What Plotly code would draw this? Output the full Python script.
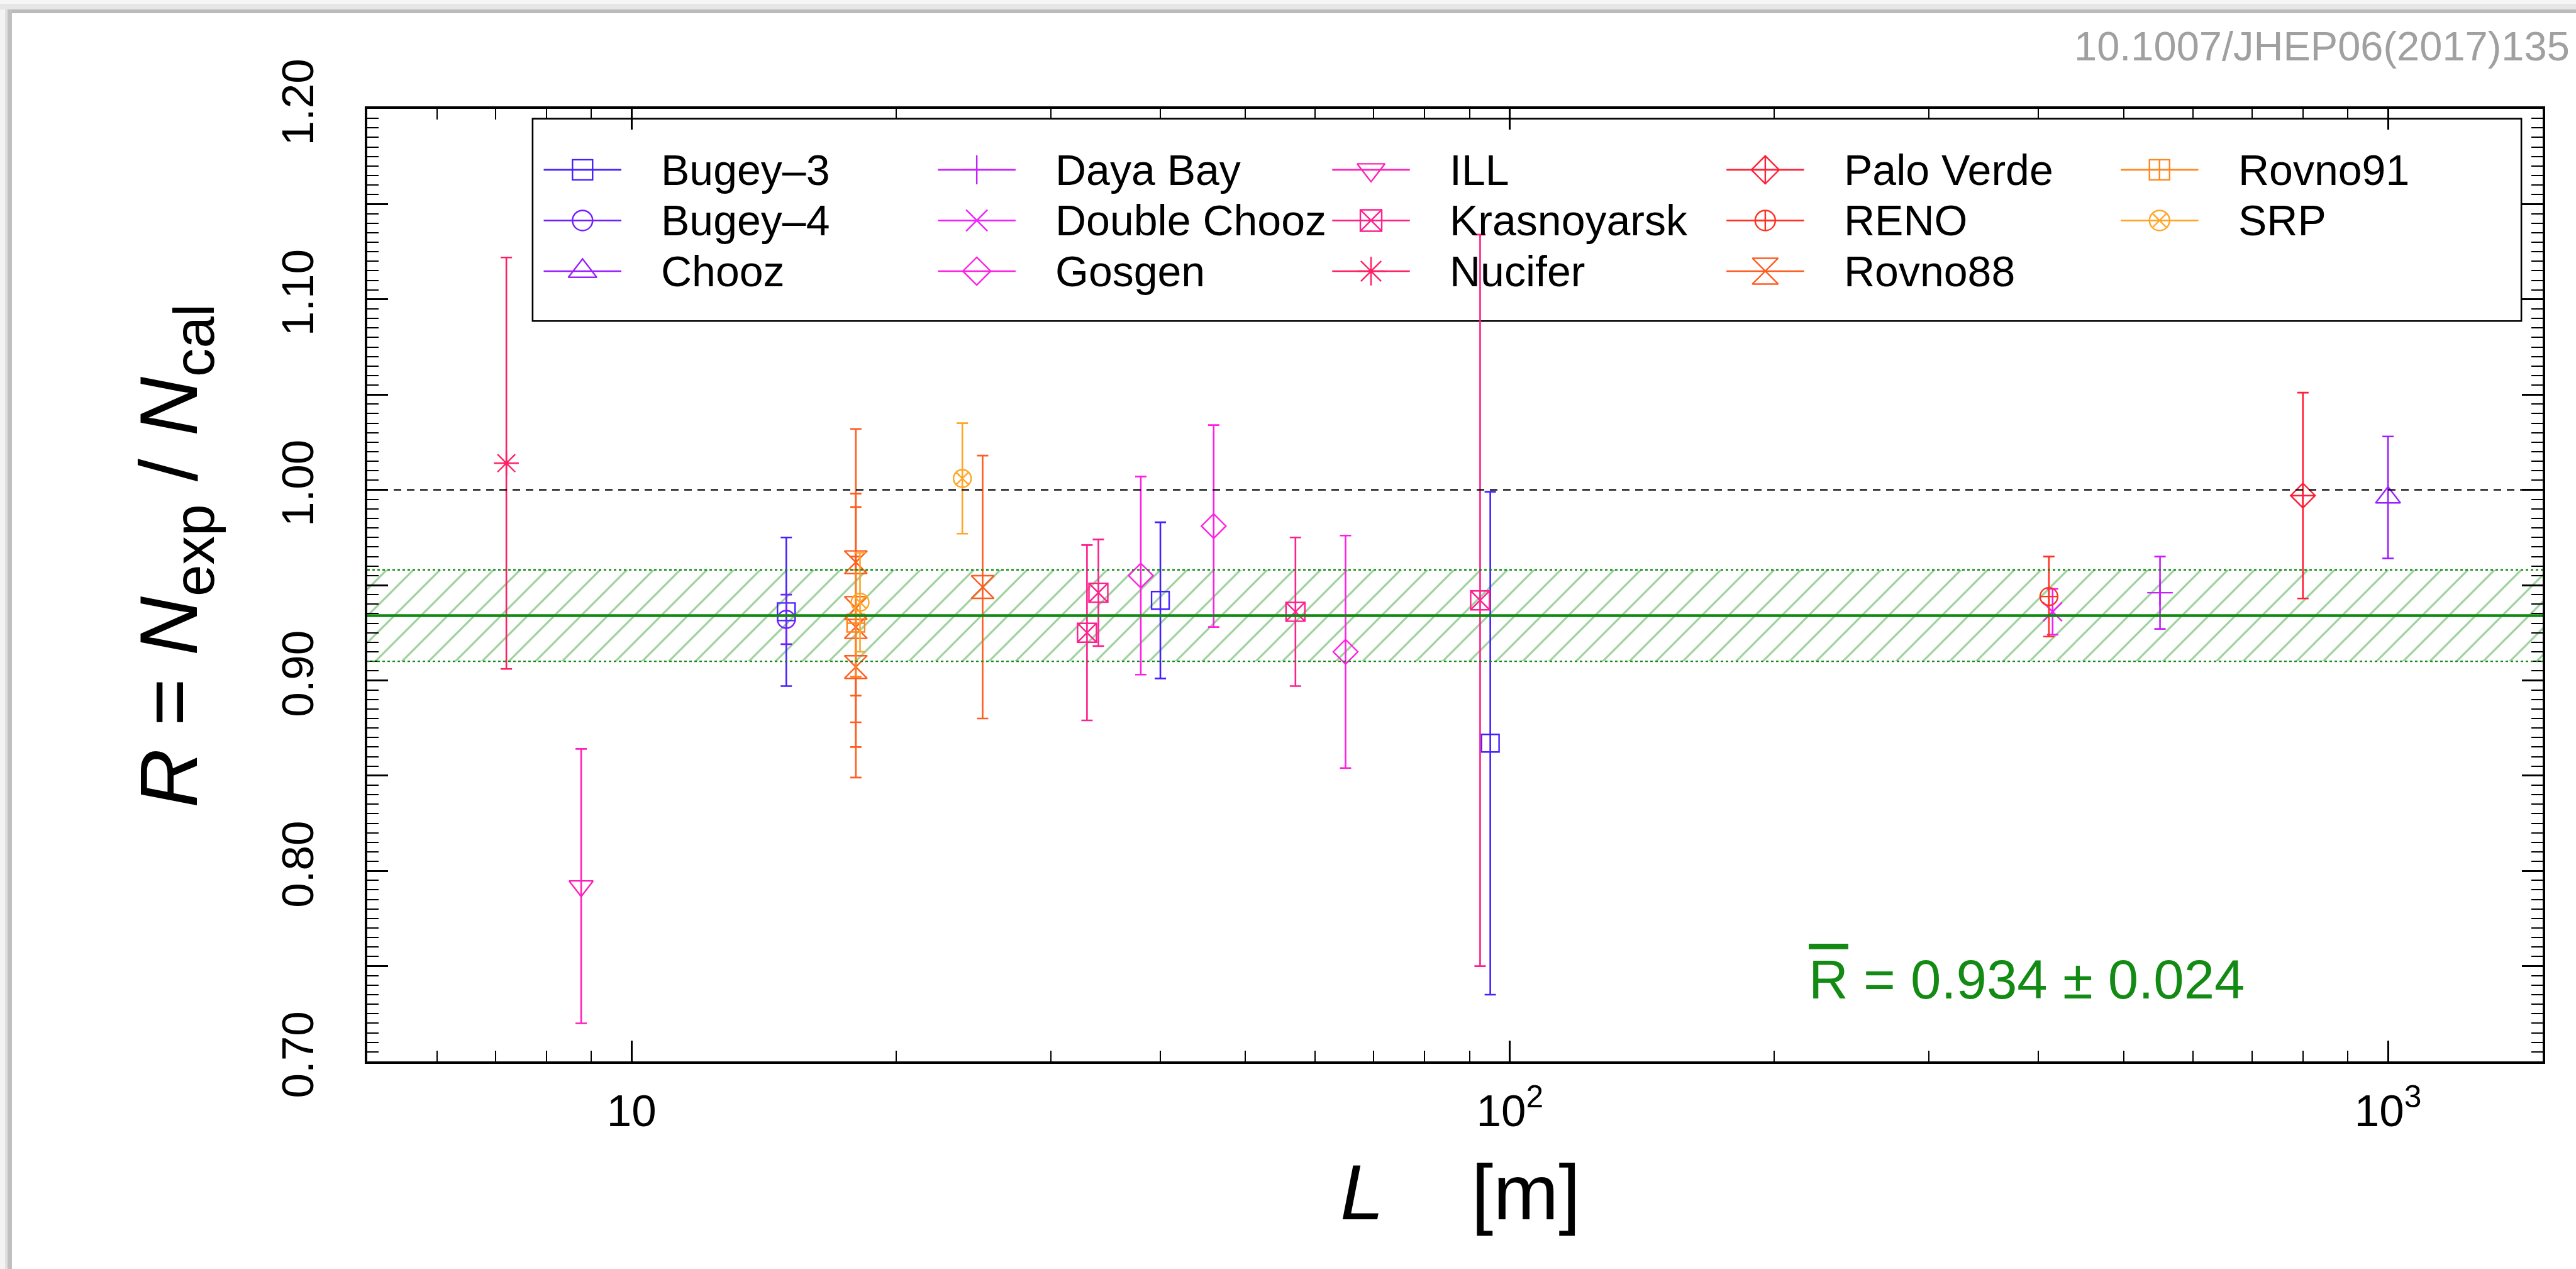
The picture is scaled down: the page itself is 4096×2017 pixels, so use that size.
import math
import plotly.graph_objects as go

# ---------------- reactor rate ratios R = N_exp / N_cal versus baseline L ----------------
bugey3_L = [15, 40, 95]
bugey3_R = [0.936, 0.942, 0.867]
bugey3_err = [0.039, 0.041, 0.132]

bugey4_L = [15]
bugey4_R = [0.932]
bugey4_err = [0.013]

chooz_L = [1000]
chooz_R = [0.996]
chooz_err = [0.032]

dayabay_L = [550]
dayabay_R = [0.946]
dayabay_err = [0.019]

doublechooz_L = [415]
doublechooz_R = [0.936]
doublechooz_err = [0.012]

gosgen_L = [38, 46, 65]
gosgen_R = [0.955, 0.981, 0.915]
gosgen_err = [0.052, 0.053, 0.061]

ill_L = [8.76]
ill_R = [0.792]
ill_err = [0.072]

krasnoyarsk_L = [33, 92.5, 57, 34]
krasnoyarsk_R = [0.925, 0.942, 0.936, 0.946]
krasnoyarsk_err = [0.046, 0.192, 0.039, 0.028]

nucifer_L = [7.2]
nucifer_R = [1.014]
nucifer_err = [0.108]

paloverde_L = [800]
paloverde_R = [0.997]
paloverde_err = [0.054]

reno_L = [411]
reno_R = [0.944]
reno_err = [0.021]

rovno88_L = [18.0, 18.0, 18.0, 18.0, 25.1]
rovno88_R = [0.962, 0.938, 0.928, 0.907, 0.949]
rovno88_err = [0.070, 0.060, 0.063, 0.058, 0.069]

rovno91_L = [18.0]
rovno91_R = [0.930]
rovno91_err = [0.028]

srp_L = [18.2, 23.8]
srp_R = [0.941, 1.006]
srp_err = [0.026, 0.029]

# weighted average of all rates
R_mean = 0.934
R_sigma = 0.024

# axis limits and tick labels
L_min, L_max = 5, 1500
R_min, R_max = 0.70, 1.20
x_major = [10, 100, 1000]
x_major_text = ["10", "10<sup>2</sup>", "10<sup>3</sup>"]
y_major = [0.70, 0.75, 0.80, 0.85, 0.90, 0.95, 1.00, 1.05, 1.10, 1.15, 1.20]
y_major_text = ["0.70", "", "0.80", "", "0.90", "", "1.00", "", "1.10", "", "1.20"]

# ---------------- styling ----------------
FONT = "Liberation Sans, Arial, Helvetica, sans-serif"
GREEN = "#138a13"

experiments = [
    # name,           L,              R,              err,              symbol,               size, color
    ("Bugey–3",      bugey3_L,       bugey3_R,       bugey3_err,       "square-open",        28, "#4420FF"),
    ("Bugey–4",      bugey4_L,       bugey4_R,       bugey4_err,       "circle-open",        28, "#6F1FFF"),
    ("Chooz",        chooz_L,        chooz_R,        chooz_err,        "triangle-up-open",   34, "#9A1FFF"),
    ("Daya Bay",     dayabay_L,      dayabay_R,      dayabay_err,      "cross-thin-open",    29, "#C51FFF"),
    ("Double Chooz", doublechooz_L,  doublechooz_R,  doublechooz_err,  "x-thin-open",        30, "#F01FFF"),
    ("Gosgen",       gosgen_L,       gosgen_R,       gosgen_err,       "diamond-open",       30, "#FF1FE3"),
    ("ILL",          ill_L,          ill_R,          ill_err,          "triangle-down-open", 33, "#FF1FB8"),
    ("Krasnoyarsk",  krasnoyarsk_L,  krasnoyarsk_R,  krasnoyarsk_err,  "square-x-open",      30, "#FF1F8D"),
    ("Nucifer",      nucifer_L,      nucifer_R,      nucifer_err,      "asterisk-open",      33, "#FF1F62"),
    ("Palo Verde",   paloverde_L,    paloverde_R,    paloverde_err,    "diamond-cross-open", 30, "#FF1F37"),
    ("RENO",         reno_L,         reno_R,         reno_err,         "circle-cross-open",  28, "#FF311F"),
    ("Rovno88",      rovno88_L,      rovno88_R,      rovno88_err,      "hourglass-open",     36, "#FF5C1F"),
    ("Rovno91",      rovno91_L,      rovno91_R,      rovno91_err,      "square-cross-open",  28, "#FF871F"),
    ("SRP",          srp_L,          srp_R,          srp_err,          "circle-x-open",      28, "#FFA526"),
]

# canvas and plot-area geometry (pixels)
W, H = 4096, 2017
PL, PR, PT, PB = 584, 4043, 173, 1687
PW, PH = PR - PL, PB - PT


def paper_x(px):
    return (px - PL) / PW


def paper_y(py):
    return (PB - py) / PH


fig = go.Figure()

# hatched band of the mean ratio +- 1 sigma
fig.add_trace(go.Scatter(
    x=[L_min, L_max, L_max, L_min, L_min],
    y=[R_mean - R_sigma, R_mean - R_sigma, R_mean + R_sigma, R_mean + R_sigma, R_mean - R_sigma],
    mode="lines", line=dict(width=0), fill="toself",
    fillcolor="rgba(0,0,0,0)",
    fillpattern=dict(shape="/", fgcolor="rgba(30,150,30,0.9)", bgcolor="rgba(0,0,0,0)",
                     size=30, solidity=0.1),
    hoverinfo="skip", showlegend=False,
))

# data points with error bars
for name, L, R, err, sym, size, col in experiments:
    fig.add_trace(go.Scatter(
        x=L, y=R, mode="markers", name=name, showlegend=False,
        marker=dict(symbol=sym, size=size, color=col, line=dict(width=2.4, color=col)),
        error_y=dict(type="data", array=err, visible=True, color=col, thickness=2.6, width=9),
    ))

# ---------------- legend box, drawn on an overlay axis spanning the plot area ----------------
LEG_BOX = (0.0760, 0.7772, 0.9902, 0.9897)   # x0, y0, x1, y1 as plot-area fractions
LEG_LINE_X0 = 0.0811
LEG_COL_W = 0.18123
LEG_LINE_LEN = 0.0357
LEG_TEXT_OFF = 0.0534
LEG_ROW_Y0 = 0.9360
LEG_ROW_H = 0.05319
N_ROWS = 3

annotations = []
for i, (name, L, R, err, sym, size, col) in enumerate(experiments):
    c, r = divmod(i, N_ROWS)
    x0 = LEG_LINE_X0 + c * LEG_COL_W
    yy = LEG_ROW_Y0 - r * LEG_ROW_H
    fig.add_trace(go.Scatter(
        x=[x0, x0 + LEG_LINE_LEN / 2, x0 + LEG_LINE_LEN], y=[yy, yy, yy],
        xaxis="x2", yaxis="y2", mode="lines+markers", showlegend=False, hoverinfo="skip",
        line=dict(color=col, width=2.6),
        marker=dict(symbol=sym, size=round(size * 1.15), color=col, opacity=[0, 1, 0],
                    line=dict(width=2.4, color=col)),
    ))
    annotations.append(dict(
        text=name, xref="paper", yref="paper", x=x0 + LEG_TEXT_OFF, y=yy,
        xanchor="left", yanchor="middle", showarrow=False,
        font=dict(family=FONT, size=68, color="black"),
    ))

shapes = [
    # legend frame
    dict(type="rect", xref="paper", yref="paper", x0=LEG_BOX[0], y0=LEG_BOX[1],
         x1=LEG_BOX[2], y1=LEG_BOX[3], line=dict(color="black", width=2.6),
         fillcolor="white", layer="below"),
    # R = 1 reference line
    dict(type="line", xref="x domain", yref="y", x0=0, x1=1, y0=1.0, y1=1.0,
         line=dict(color="black", width=2.4, dash="12px,9px")),
    # band borders and central value
    dict(type="line", xref="x domain", yref="y", x0=0, x1=1, y0=R_mean + R_sigma, y1=R_mean + R_sigma,
         line=dict(color=GREEN, width=2.4, dash="4px,4px")),
    dict(type="line", xref="x domain", yref="y", x0=0, x1=1, y0=R_mean - R_sigma, y1=R_mean - R_sigma,
         line=dict(color=GREEN, width=2.4, dash="4px,4px")),
    dict(type="line", xref="x domain", yref="y", x0=0, x1=1, y0=R_mean, y1=R_mean,
         line=dict(color=GREEN, width=4.5)),
]

# page edge shading along the top and left borders
for (a, b, colr) in [(0, 6, "#f6f6f6"), (6, 15, "#e6e6e6"), (15, 21, "#bbbbbb")]:
    shapes.append(dict(type="rect", xref="paper", yref="paper", x0=paper_x(0), x1=paper_x(W),
                       y0=paper_y(b), y1=paper_y(a), line=dict(width=0), fillcolor=colr, layer="below"))
for (a, b, colr) in [(0, 8, "#f3f3f3"), (8, 12, "#e0e0e0"), (12, 19, "#c0c0c0")]:
    shapes.append(dict(type="rect", xref="paper", yref="paper", x0=paper_x(a), x1=paper_x(b),
                       y0=paper_y(H), y1=paper_y(15), line=dict(width=0), fillcolor=colr, layer="below"))

# text labels
annotations += [
    dict(text='<span style="text-decoration:overline">R</span> = %.3f ± %.3f' % (R_mean, R_sigma),
         xref="paper", yref="paper", x=paper_x(2874), y=paper_y(1556), xanchor="left", yanchor="middle",
         showarrow=False, font=dict(family=FONT, size=87, color=GREEN)),
    dict(text="<i>R</i> = <i>N</i><sub>exp</sub> / <i>N</i><sub>cal</sub>",
         xref="paper", yref="paper", x=paper_x(277), y=paper_y(884), xanchor="center", yanchor="middle",
         textangle=-90, showarrow=False, font=dict(family=FONT, size=130, color="black")),
    dict(text="<i>L</i>&nbsp;&nbsp;&nbsp;&nbsp;[m]",
         xref="paper", yref="paper", x=paper_x(2322), y=paper_y(1895), xanchor="center", yanchor="middle",
         showarrow=False, font=dict(family=FONT, size=125, color="black")),
    dict(text="10.1007/JHEP06(2017)135",
         xref="paper", yref="paper", x=paper_x(4088), y=paper_y(74), xanchor="right", yanchor="middle",
         showarrow=False, font=dict(family=FONT, size=65, color="#a0a0a0")),
]

x_minor = [k * 10 ** e for e in range(0, 4) for k in range(2, 10) if L_min <= k * 10 ** e <= L_max]

axis_common = dict(
    showgrid=False, zeroline=False, showline=True, linecolor="black", linewidth=4,
    mirror="ticks", ticks="inside", tickcolor="black", tickwidth=2.5, ticklen=33,
    tickfont=dict(family=FONT, size=71, color="black"),
)

fig.update_layout(
    width=W, height=H,
    margin=dict(l=PL, r=W - PR, t=PT, b=H - PB, pad=0),
    paper_bgcolor="white", plot_bgcolor="white",
    showlegend=False,
    xaxis=dict(type="log", range=[math.log10(L_min), math.log10(L_max)],
               tickmode="array", tickvals=x_major, ticktext=x_major_text,
               ticklabelstandoff=14,
               minor=dict(tickmode="array", tickvals=x_minor, ticks="inside", ticklen=17,
                          tickwidth=2, tickcolor="black"),
               **axis_common),
    yaxis=dict(range=[R_min, R_max], tickmode="array", tickvals=y_major, ticktext=y_major_text,
               tickangle=-90, ticklabelstandoff=54,
               minor=dict(dtick=0.005, ticks="inside", ticklen=18, tickwidth=2, tickcolor="black"),
               **axis_common),
    xaxis2=dict(range=[0, 1], overlaying="x", anchor="y2", visible=False, fixedrange=True),
    yaxis2=dict(range=[0, 1], overlaying="y", anchor="x2", visible=False, fixedrange=True),
    shapes=shapes,
    annotations=annotations,
)

fig.write_html("out.html")
